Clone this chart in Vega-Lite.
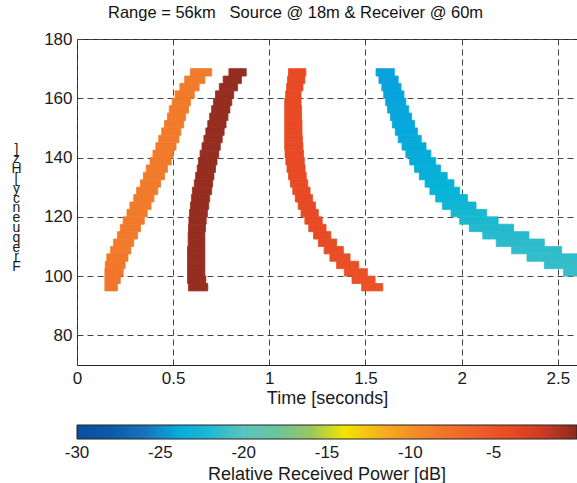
{
  "$schema": "https://vega.github.io/schema/vega-lite/v6.json",
  "width": 500,
  "height": 326,
  "autosize": {"type": "none"},
  "padding": {"left": 77, "top": 39, "right": 0, "bottom": 118},
  "background": "white",
  "title": {"text": "Range = 56km\u00a0\u00a0\u00a0Source @ 18m & Receiver @ 60m", "anchor": "start", "frame": "group", "dx": 31, "offset": 9, "fontSize": 16.5, "fontWeight": "normal", "font": "Liberation Sans", "color": "#111"},
  "config": {
    "font": "Liberation Sans",
    "view": {"stroke": "#222", "strokeWidth": 1},
    "axis": {"domain": false, "ticks": false, "grid": true, "gridDash": [6, 4], "gridColor": "#444", "gridOpacity": 1, "gridWidth": 1, "labelFont": "Liberation Sans", "labelFontSize": 17, "labelColor": "#1a1a1a", "titleFont": "Liberation Sans", "titleFontWeight": "normal", "titleColor": "#1a1a1a", "zindex": 1}
  },
  "data": {"values": [
    {"b":"o","f0":95,"f1":97.5,"t0":0.145,"t1":0.21,"p":-8},
    {"b":"o","f0":97.5,"f1":100,"t0":0.145,"t1":0.225,"p":-8},
    {"b":"o","f0":100,"f1":102.5,"t0":0.145,"t1":0.24,"p":-8},
    {"b":"o","f0":102.5,"f1":105,"t0":0.147,"t1":0.25,"p":-8},
    {"b":"o","f0":105,"f1":107.5,"t0":0.155,"t1":0.265,"p":-8.3},
    {"b":"o","f0":107.5,"f1":110,"t0":0.175,"t1":0.28,"p":-8.5},
    {"b":"o","f0":110,"f1":112.5,"t0":0.19,"t1":0.295,"p":-8.5},
    {"b":"o","f0":112.5,"f1":115,"t0":0.21,"t1":0.315,"p":-8.5},
    {"b":"o","f0":115,"f1":117.5,"t0":0.225,"t1":0.33,"p":-8.5},
    {"b":"o","f0":117.5,"f1":120,"t0":0.24,"t1":0.35,"p":-8.5},
    {"b":"o","f0":120,"f1":122.5,"t0":0.26,"t1":0.365,"p":-8.5},
    {"b":"o","f0":122.5,"f1":125,"t0":0.275,"t1":0.385,"p":-8.5},
    {"b":"o","f0":125,"f1":127.5,"t0":0.295,"t1":0.4,"p":-8.5},
    {"b":"o","f0":127.5,"f1":130,"t0":0.31,"t1":0.42,"p":-8.5},
    {"b":"o","f0":130,"f1":132.5,"t0":0.33,"t1":0.435,"p":-8.5},
    {"b":"o","f0":132.5,"f1":135,"t0":0.345,"t1":0.455,"p":-8.5},
    {"b":"o","f0":135,"f1":137.5,"t0":0.36,"t1":0.47,"p":-8.5},
    {"b":"o","f0":137.5,"f1":140,"t0":0.38,"t1":0.49,"p":-8.5},
    {"b":"o","f0":140,"f1":142.5,"t0":0.395,"t1":0.5,"p":-8.5},
    {"b":"o","f0":142.5,"f1":145,"t0":0.41,"t1":0.515,"p":-8.5},
    {"b":"o","f0":145,"f1":147.5,"t0":0.425,"t1":0.53,"p":-8.5},
    {"b":"o","f0":147.5,"f1":150,"t0":0.44,"t1":0.54,"p":-8.5},
    {"b":"o","f0":150,"f1":152.5,"t0":0.455,"t1":0.555,"p":-8.5},
    {"b":"o","f0":152.5,"f1":155,"t0":0.47,"t1":0.565,"p":-8.5},
    {"b":"o","f0":155,"f1":157.5,"t0":0.48,"t1":0.58,"p":-8.5},
    {"b":"o","f0":157.5,"f1":160,"t0":0.495,"t1":0.59,"p":-8.5},
    {"b":"o","f0":160,"f1":162.5,"t0":0.51,"t1":0.61,"p":-8.5},
    {"b":"o","f0":162.5,"f1":165,"t0":0.535,"t1":0.635,"p":-8.5},
    {"b":"o","f0":165,"f1":167.5,"t0":0.56,"t1":0.665,"p":-8.5},
    {"b":"o","f0":167.5,"f1":170,"t0":0.59,"t1":0.7,"p":-8.5},

    {"b":"d","f0":95,"f1":97.5,"t0":0.58,"t1":0.68,"p":-0.3},
    {"b":"d","f0":97.5,"f1":100,"t0":0.575,"t1":0.67,"p":-0.3},
    {"b":"d","f0":100,"f1":102.5,"t0":0.575,"t1":0.665,"p":-0.3},
    {"b":"d","f0":102.5,"f1":105,"t0":0.575,"t1":0.665,"p":-0.3},
    {"b":"d","f0":105,"f1":107.5,"t0":0.575,"t1":0.665,"p":-0.3},
    {"b":"d","f0":107.5,"f1":110,"t0":0.575,"t1":0.665,"p":-0.3},
    {"b":"d","f0":110,"f1":112.5,"t0":0.578,"t1":0.665,"p":-0.3},
    {"b":"d","f0":112.5,"f1":115,"t0":0.578,"t1":0.665,"p":-0.3},
    {"b":"d","f0":115,"f1":117.5,"t0":0.58,"t1":0.668,"p":-0.3},
    {"b":"d","f0":117.5,"f1":120,"t0":0.582,"t1":0.672,"p":-0.3},
    {"b":"d","f0":120,"f1":122.5,"t0":0.585,"t1":0.678,"p":-0.3},
    {"b":"d","f0":122.5,"f1":125,"t0":0.59,"t1":0.685,"p":-0.3},
    {"b":"d","f0":125,"f1":127.5,"t0":0.595,"t1":0.69,"p":-0.3},
    {"b":"d","f0":127.5,"f1":130,"t0":0.6,"t1":0.7,"p":-0.3},
    {"b":"d","f0":130,"f1":132.5,"t0":0.61,"t1":0.705,"p":-0.3},
    {"b":"d","f0":132.5,"f1":135,"t0":0.617,"t1":0.712,"p":-0.3},
    {"b":"d","f0":135,"f1":137.5,"t0":0.625,"t1":0.72,"p":-0.3},
    {"b":"d","f0":137.5,"f1":140,"t0":0.632,"t1":0.728,"p":-0.3},
    {"b":"d","f0":140,"f1":142.5,"t0":0.64,"t1":0.737,"p":-0.3},
    {"b":"d","f0":142.5,"f1":145,"t0":0.65,"t1":0.745,"p":-0.3},
    {"b":"d","f0":145,"f1":147.5,"t0":0.66,"t1":0.755,"p":-0.3},
    {"b":"d","f0":147.5,"f1":150,"t0":0.67,"t1":0.765,"p":-0.3},
    {"b":"d","f0":150,"f1":152.5,"t0":0.68,"t1":0.775,"p":-0.3},
    {"b":"d","f0":152.5,"f1":155,"t0":0.69,"t1":0.785,"p":-0.3},
    {"b":"d","f0":155,"f1":157.5,"t0":0.7,"t1":0.795,"p":-0.3},
    {"b":"d","f0":157.5,"f1":160,"t0":0.71,"t1":0.805,"p":-0.3},
    {"b":"d","f0":160,"f1":162.5,"t0":0.72,"t1":0.815,"p":-0.3},
    {"b":"d","f0":162.5,"f1":165,"t0":0.74,"t1":0.835,"p":-0.3},
    {"b":"d","f0":165,"f1":167.5,"t0":0.76,"t1":0.855,"p":-0.3},
    {"b":"d","f0":167.5,"f1":170,"t0":0.79,"t1":0.88,"p":-0.3},

    {"b":"r","f0":95,"f1":97.5,"t0":1.48,"t1":1.59,"p":-4.8},
    {"b":"r","f0":97.5,"f1":100,"t0":1.43,"t1":1.55,"p":-4.7},
    {"b":"r","f0":100,"f1":102.5,"t0":1.39,"t1":1.51,"p":-4.6},
    {"b":"r","f0":102.5,"f1":105,"t0":1.35,"t1":1.465,"p":-4.5},
    {"b":"r","f0":105,"f1":107.5,"t0":1.315,"t1":1.42,"p":-4.4},
    {"b":"r","f0":107.5,"f1":110,"t0":1.285,"t1":1.385,"p":-4.3},
    {"b":"r","f0":110,"f1":112.5,"t0":1.255,"t1":1.35,"p":-4.2},
    {"b":"r","f0":112.5,"f1":115,"t0":1.23,"t1":1.32,"p":-4.1},
    {"b":"r","f0":115,"f1":117.5,"t0":1.205,"t1":1.295,"p":-4},
    {"b":"r","f0":117.5,"f1":120,"t0":1.185,"t1":1.275,"p":-4},
    {"b":"r","f0":120,"f1":122.5,"t0":1.165,"t1":1.255,"p":-4},
    {"b":"r","f0":122.5,"f1":125,"t0":1.15,"t1":1.24,"p":-4},
    {"b":"r","f0":125,"f1":127.5,"t0":1.135,"t1":1.225,"p":-4},
    {"b":"r","f0":127.5,"f1":130,"t0":1.122,"t1":1.212,"p":-4},
    {"b":"r","f0":130,"f1":132.5,"t0":1.11,"t1":1.2,"p":-4},
    {"b":"r","f0":132.5,"f1":135,"t0":1.1,"t1":1.192,"p":-4},
    {"b":"r","f0":135,"f1":137.5,"t0":1.092,"t1":1.186,"p":-4},
    {"b":"r","f0":137.5,"f1":140,"t0":1.086,"t1":1.182,"p":-4},
    {"b":"r","f0":140,"f1":142.5,"t0":1.082,"t1":1.178,"p":-4},
    {"b":"r","f0":142.5,"f1":145,"t0":1.08,"t1":1.175,"p":-4},
    {"b":"r","f0":145,"f1":147.5,"t0":1.08,"t1":1.172,"p":-4},
    {"b":"r","f0":147.5,"f1":150,"t0":1.08,"t1":1.17,"p":-4},
    {"b":"r","f0":150,"f1":152.5,"t0":1.08,"t1":1.17,"p":-4},
    {"b":"r","f0":152.5,"f1":155,"t0":1.08,"t1":1.168,"p":-4},
    {"b":"r","f0":155,"f1":157.5,"t0":1.08,"t1":1.168,"p":-4},
    {"b":"r","f0":157.5,"f1":160,"t0":1.08,"t1":1.165,"p":-4},
    {"b":"r","f0":160,"f1":162.5,"t0":1.085,"t1":1.165,"p":-4},
    {"b":"r","f0":162.5,"f1":165,"t0":1.09,"t1":1.175,"p":-4},
    {"b":"r","f0":165,"f1":167.5,"t0":1.095,"t1":1.185,"p":-4},
    {"b":"r","f0":167.5,"f1":170,"t0":1.1,"t1":1.19,"p":-4},

    {"b":"c","f0":100,"f1":102.5,"t0":2.53,"t1":2.6,"p":-21.2},
    {"b":"c","f0":102.5,"f1":105,"t0":2.43,"t1":2.6,"p":-21.3},
    {"b":"c","f0":105,"f1":107.5,"t0":2.34,"t1":2.6,"p":-21.4},
    {"b":"c","f0":107.5,"f1":110,"t0":2.26,"t1":2.52,"p":-21.5},
    {"b":"c","f0":110,"f1":112.5,"t0":2.18,"t1":2.43,"p":-21.6},
    {"b":"c","f0":112.5,"f1":115,"t0":2.11,"t1":2.35,"p":-21.8},
    {"b":"c","f0":115,"f1":117.5,"t0":2.04,"t1":2.27,"p":-22},
    {"b":"c","f0":117.5,"f1":120,"t0":1.99,"t1":2.19,"p":-22.2},
    {"b":"c","f0":120,"f1":122.5,"t0":1.945,"t1":2.13,"p":-22.4},
    {"b":"c","f0":122.5,"f1":125,"t0":1.9,"t1":2.075,"p":-22.6},
    {"b":"c","f0":125,"f1":127.5,"t0":1.865,"t1":2.03,"p":-22.8},
    {"b":"c","f0":127.5,"f1":130,"t0":1.835,"t1":1.99,"p":-23},
    {"b":"c","f0":130,"f1":132.5,"t0":1.81,"t1":1.96,"p":-23.2},
    {"b":"c","f0":132.5,"f1":135,"t0":1.78,"t1":1.925,"p":-23.4},
    {"b":"c","f0":135,"f1":137.5,"t0":1.755,"t1":1.89,"p":-23.5},
    {"b":"c","f0":137.5,"f1":140,"t0":1.73,"t1":1.865,"p":-23.6},
    {"b":"c","f0":140,"f1":142.5,"t0":1.71,"t1":1.84,"p":-23.7},
    {"b":"c","f0":142.5,"f1":145,"t0":1.69,"t1":1.815,"p":-23.8},
    {"b":"c","f0":145,"f1":147.5,"t0":1.67,"t1":1.79,"p":-23.9},
    {"b":"c","f0":147.5,"f1":150,"t0":1.655,"t1":1.77,"p":-24},
    {"b":"c","f0":150,"f1":152.5,"t0":1.64,"t1":1.755,"p":-24.1},
    {"b":"c","f0":152.5,"f1":155,"t0":1.63,"t1":1.74,"p":-24.2},
    {"b":"c","f0":155,"f1":157.5,"t0":1.615,"t1":1.725,"p":-24.3},
    {"b":"c","f0":157.5,"f1":160,"t0":1.605,"t1":1.71,"p":-24.4},
    {"b":"c","f0":160,"f1":162.5,"t0":1.595,"t1":1.7,"p":-24.5},
    {"b":"c","f0":162.5,"f1":165,"t0":1.585,"t1":1.685,"p":-24.5},
    {"b":"c","f0":165,"f1":167.5,"t0":1.57,"t1":1.67,"p":-24.6},
    {"b":"c","f0":167.5,"f1":170,"t0":1.555,"t1":1.65,"p":-24.6}
  ]},
  "mark": {"type": "rect", "clip": true, "stroke": {"expr": "scale('color', datum.p)"}, "strokeWidth": 0.8},
  "encoding": {
    "x": {"field": "t0", "type": "quantitative", "scale": {"domain": [0, 2.6], "nice": false, "zero": false},
      "axis": {"values": [0, 0.5, 1, 1.5, 2, 2.5], "format": "~g", "title": "Time [seconds]", "titleFontSize": 18, "titlePadding": 3, "labelPadding": 5, "labelFlush": false, "labelOverlap": false}},
    "x2": {"field": "t1"},
    "y": {"field": "f0", "type": "quantitative", "scale": {"domain": [70, 180], "nice": false, "zero": false},
      "axis": {"values": [80, 100, 120, 140, 160, 180], "labelPadding": 5, "labelFlush": false,
        "title": ["]", "z", "H", "[", "y", "c", "n", "e", "u", "q", "e", "r", "F"],
        "titleAngle": 0, "titleAlign": "center", "titleBaseline": "top", "titleX": -61, "titleY": 103, "titleFontSize": 14, "titleLineHeight": 9.8}},
    "y2": {"field": "f1"},
    "color": {"field": "p", "type": "quantitative",
      "scale": {"domain": [-30, -27.5, -25.5, -24.8, -23, -21, -20, -18, -16, -15, -14, -13, -12, -10.5, -9, -7, -5, -3.5, -2, -1, 0],
        "range": ["#0a4e9e", "#0f5caa", "#1a78c2", "#08a0e0", "#06b4d6", "#3ebec8", "#5ac4be", "#6cc49a", "#96c860", "#c0d238", "#f2e400", "#f9d000", "#f8b61a", "#f59a22", "#f2802a", "#ef6a2c", "#eb5427", "#e64522", "#ca3b26", "#ae3325", "#8a2a1e"], "interpolate": "rgb"},
      "legend": {"type": "gradient", "orient": "none", "legendX": 0, "legendY": 386, "direction": "horizontal", "gradientLength": 500, "gradientThickness": 14,
        "gradientStrokeColor": "#222", "gradientStrokeWidth": 1, "values": [-30, -25, -20, -15, -10, -5],
        "labelFontSize": 17, "labelAlign": "center", "labelOffset": 6, "labelColor": "#1a1a1a", "labelOverlap": false,
        "labelExpr": "'' + datum.value",
        "encode": {"labels": {"update": {"align": {"value": "center"}}}},
        "title": "Relative Received Power [dB]", "titleLimit": 1000, "titleOrient": "bottom", "titleAnchor": "middle", "titleFontSize": 18, "titleFontWeight": "normal", "titleColor": "#1a1a1a", "titlePadding": 5}}
  }
}
